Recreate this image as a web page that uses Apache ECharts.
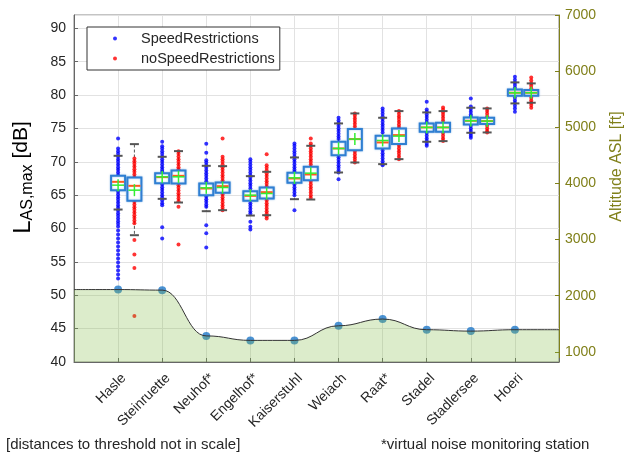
<!DOCTYPE html>
<html><head><meta charset="utf-8">
<script src="https://cdn.jsdelivr.net/npm/echarts@6/dist/echarts.min.js"></script>
<style>html,body{margin:0;padding:0;background:#fff}#c{width:633px;height:462px}</style>
</head><body><div id="c"></div>
<script>
const stations = ['Hasle','Steinruette','Neuhof*','Engelhof*','Kaiserstuhl','Weiach','Raat*','Stadel','Stadlersee','Hoeri'];
const altitudeFt = [2110,2100,1285,1205,1205,1465,1585,1395,1370,1395];
const rightTicks = [1000,2000,3000,4000,5000,6000,7000];
// [lowerWhisker, q1, median, q3, upperWhisker]
const boxSpeed = [
  [62.85,65.75,67.0,67.9,70.9],[64.45,66.8,67.7,68.3,70.75],[62.6,65.0,66.0,66.75,69.4],
  [61.95,64.15,64.9,65.6,67.85],[64.4,66.85,67.5,68.35,70.65],[68.4,71.0,72.0,73.0,75.75],
  [69.65,72.0,72.9,73.9,76.6],[73.0,74.5,75.15,75.75,77.4],[74.35,75.6,76.15,76.65,78.1],
  [78.75,79.9,80.35,80.85,81.9]];
const meanSpeed = [66.5,67.75,66.1,65.0,67.6,72.0,73.2,75.15,76.15,80.35];
const boxNoSpeed = [
  [59.0,64.15,66.4,67.65,72.65],[63.9,66.75,67.9,68.7,71.6],[62.75,65.35,66.35,66.9,69.35],
  [62.0,64.5,65.45,66.15,68.5],[64.35,67.25,68.1,69.25,72.4],[69.9,71.75,73.4,74.9,77.25],
  [70.4,72.65,74.0,75.0,77.6],[73.1,74.5,75.15,75.85,77.6],[74.4,75.65,76.1,76.6,78.0],
  [78.85,79.9,80.35,80.75,81.75]];
const meanNoSpeed = [65.75,67.75,66.15,65.25,68.3,73.4,73.85,75.15,76.1,80.35];
const dotsSpeed = [
  [73.5,72.0,71.6,71.2,70.8,70.4,70.0,69.6,69.2,68.8,68.4,68.0,65.5,65.1,64.7,64.3,63.9,63.5,63.1,62.7,62.3,61.9,61.5,61.1,60.7,60.3,59.7,59.1,58.5,57.9,57.3,56.7,56.1,55.5,54.9,54.3,53.7,53.1,52.5],
  [73.0,72.35,72.0,71.6,71.2,70.8,70.4,70.0,69.6,69.2,68.8,68.5,66.6,66.2,65.8,65.4,65.0,64.6,64.2,63.8,63.5,60.2,58.5],
  [72.7,71.35,70.25,69.9,69.5,69.1,68.7,68.3,67.9,67.5,67.1,64.8,64.4,64.0,63.6,63.25,60.5,59.3,57.15],
  [70.4,70.0,69.6,69.2,68.8,68.4,68.0,67.6,67.2,66.8,66.4,66.0,63.8,63.4,63.0,62.6,62.25,61.0,60.25,59.85],
  [72.75,72.4,72.0,71.6,71.2,70.8,70.4,70.0,69.6,69.2,68.8,68.5,66.6,66.2,65.8,65.4,65.0,62.75],
  [76.6,76.2,75.8,75.4,75.0,74.6,74.2,73.8,73.4,70.7,70.3,69.9,69.5,69.1,68.7,68.4,67.4],
  [78.0,77.6,77.2,76.8,76.4,76.0,75.6,75.2,74.8,74.4,71.7,71.3,70.9,70.5,70.1,69.7,69.5],
  [79.0,77.85,77.5,77.1,76.7,76.3,75.9,74.3,73.9,73.5,73.1,72.7,72.4],
  [79.5,78.3,77.9,77.5,77.1,76.8,75.4,75.0,74.6,74.2,73.9,73.6],
  [82.75,82.3,81.9,81.5,81.1,79.6,79.2,78.8,78.4,78.0,77.5]];
const dotsNoSpeed = [
  [70.5,70.1,69.7,69.3,68.9,68.5,68.1,67.7,64.0,63.6,63.2,62.8,62.4,62.0,61.6,61.2,60.8,58.3,56.1,54.1,46.9],
  [71.6,71.2,70.8,70.4,70.0,69.6,69.2,68.9,66.5,66.1,65.7,65.3,64.9,64.5,64.1,63.25,57.6],
  [73.5,70.75,70.4,70.0,69.6,69.2,68.8,68.4,68.0,67.6,67.2,65.1,64.7,64.3,63.9,63.5,63.1,62.75],
  [71.15,69.5,69.1,68.7,68.3,67.9,67.5,67.1,66.7,66.3,64.2,63.8,63.4,63.0,62.6,62.2,61.85,61.5],
  [73.5,72.75,72.4,72.0,71.6,71.2,70.8,70.4,70.0,69.6,67.0,66.6,66.2,65.8,65.4,65.0,64.6],
  [77.25,76.9,76.5,76.1,75.7,75.3,71.5,71.1,70.7,70.3,69.9],
  [77.6,77.2,76.8,76.4,76.0,75.6,75.2,72.4,72.0,71.6,71.2,70.8,70.4],
  [78.15,77.8,77.4,77.0,76.6,76.2,74.3,73.9,73.5,73.1],
  [78.0,77.6,77.2,76.8,75.4,75.0,74.6,74.4],
  [82.65,82.2,81.75,81.4,81.0,79.6,79.2,78.85,78.5,78.1]];

const OFFSET = 0.37;
const LABEL_SHIFT = 0.13;
const FONT = '"Liberation Sans", Arial, Helvetica, sans-serif';
const TXT = '#262626';
const OLIVE = '#80801a';

function dots(list, off){ const out=[]; list.forEach((arr,i)=>arr.forEach(v=>out.push([i+1+off, v]))); return out; }
function boxes(b, m, off){ return b.map((r,i)=>[i+1+off, r[0], r[1], r[2], r[3], r[4], m[i]]); }

function whiskerRender(params, api){
  const x = api.value(0);
  const lo = api.coord([x, api.value(1)]), q1 = api.coord([x, api.value(2)]);
  const q3 = api.coord([x, api.value(4)]), hi = api.coord([x, api.value(5)]);
  const st = {stroke:'#555', lineWidth:1, lineDash:[3,2]};
  return {type:'group', children:[
    {type:'line', shape:{x1:lo[0],y1:q3[1],x2:lo[0],y2:hi[1]}, style:st},
    {type:'line', shape:{x1:lo[0],y1:q1[1],x2:lo[0],y2:lo[1]}, style:st}
  ]};
}
function boxRender(params, api){
  const x = api.value(0);
  const lo = api.coord([x, api.value(1)]), q1 = api.coord([x, api.value(2)]);
  const md = api.coord([x, api.value(3)]), q3 = api.coord([x, api.value(4)]);
  const hi = api.coord([x, api.value(5)]), mn = api.coord([x, api.value(6)]);
  const cx = lo[0], hw = 7, cw = 4.5, pv = 6;
  return {type:'group', children:[
    {type:'line', shape:{x1:cx-cw,y1:hi[1],x2:cx+cw,y2:hi[1]}, style:{stroke:'#555',lineWidth:2}},
    {type:'line', shape:{x1:cx-cw,y1:lo[1],x2:cx+cw,y2:lo[1]}, style:{stroke:'#555',lineWidth:2}},
    {type:'rect', shape:{x:cx-hw,y:q3[1],width:2*hw,height:Math.max(q1[1]-q3[1],1)}, style:{fill:'#fff',stroke:'#2f7fd2',lineWidth:2,shadowColor:'rgba(47,127,210,0.45)',shadowBlur:2}},
    {type:'line', shape:{x1:cx-hw+1,y1:md[1],x2:cx+hw-1,y2:md[1]}, style:{stroke:'#ff5a1f',lineWidth:2}},
    {type:'line', shape:{x1:cx-hw+1,y1:mn[1],x2:cx+hw-1,y2:mn[1]}, style:{stroke:'#33ee33',lineWidth:1.5}},
    {type:'line', shape:{x1:cx,y1:mn[1]-pv,x2:cx,y2:mn[1]+pv}, style:{stroke:'#33ee33',lineWidth:1.5}}
  ]};
}

const altData = [[0, altitudeFt[0]]].concat(altitudeFt.map((v,i)=>[i+1,v]), [[11, altitudeFt[altitudeFt.length-1]]]);

const chart = echarts.init(document.getElementById('c'), null, {renderer:'canvas'});
chart.setOption({
  animation:false,
  textStyle:{fontFamily:FONT},
  grid:{left:74,right:67,top:15,bottom:100,show:true,borderColor:'#888',borderWidth:1,backgroundColor:'#fff'},
  legend:{
    data:['SpeedRestrictions','noSpeedRestrictions'],
    orient:'vertical', left:87, top:27, icon:'circle', itemWidth:4, itemHeight:4, itemGap:5,
    padding:[4,5,4,26], borderColor:'#333', borderWidth:1, backgroundColor:'#fff',
    textStyle:{fontSize:14.5,color:TXT,fontFamily:FONT,padding:[0,0,0,19]}
  },
  xAxis:{
    type:'value', min:0, max:11, interval:1,
    axisLine:{show:true,lineStyle:{color:'#666'}},
    axisTick:{show:true,inside:true,length:4,lineStyle:{color:'#666'}},
    splitLine:{show:true,lineStyle:{color:'#e2e2e2'}},
    axisLabel:{rotate:45,fontSize:14,color:TXT,margin:14,fontFamily:FONT,
      customValues:stations.map((s,i)=>i+1+LABEL_SHIFT),
      formatter:v=> stations[Math.round(v)-1] || ''}
  },
  yAxis:[{
    type:'value', min:40, max:92, interval:5,
    axisLine:{show:true,lineStyle:{color:'#666'}},
    axisTick:{show:true,inside:true,length:4,lineStyle:{color:'#666'}},
    splitLine:{show:true,lineStyle:{color:'#e2e2e2'}},
    axisLabel:{fontSize:14,color:TXT,margin:8,showMaxLabel:false,fontFamily:FONT},
    name:'{l|L}{s|AS,max}{d| [dB]}', nameLocation:'middle', nameRotate:90, nameGap:38,
    nameTextStyle:{color:TXT,fontFamily:FONT,padding:[0,0,0,22],
      rich:{l:{fontSize:24,fontFamily:FONT,color:'#000',verticalAlign:'top',lineHeight:25},
            s:{fontSize:16,fontFamily:FONT,color:'#000',verticalAlign:'bottom',lineHeight:16,padding:[10,0,0,0]},
            d:{fontSize:21,fontFamily:FONT,color:'#000',verticalAlign:'top',lineHeight:25}}}
  },{
    type:'value', position:'right', min:820, max:7000,
    axisLine:{show:true,lineStyle:{color:OLIVE}},
    axisTick:{show:true,inside:true,length:4,customValues:rightTicks,lineStyle:{color:OLIVE}},
    splitLine:{show:false},
    axisLabel:{fontSize:14,color:OLIVE,margin:6,customValues:rightTicks,fontFamily:FONT,formatter:v=>String(v)},
    name:'Altitude ASL [ft]', nameLocation:'middle', nameRotate:90, nameGap:50,
    nameTextStyle:{fontSize:16,color:OLIVE,fontFamily:FONT,padding:[0,0,0,44]}
  }],
  series:[
    {type:'custom', name:'whiskS', renderItem:whiskerRender, data:boxes(boxSpeed,meanSpeed,0), encode:{x:0,y:[1,2,3,4,5,6]}, z:1, silent:true},
    {type:'custom', name:'whiskN', renderItem:whiskerRender, data:boxes(boxNoSpeed,meanNoSpeed,OFFSET), encode:{x:0,y:[1,2,3,4,5,6]}, z:1, silent:true},
    {type:'scatter', name:'SpeedRestrictions', data:dots(dotsSpeed,0), symbolSize:4, itemStyle:{color:'#0000ff'}, z:2},
    {type:'scatter', name:'noSpeedRestrictions', data:dots(dotsNoSpeed,OFFSET), symbolSize:4, itemStyle:{color:'#ff0000'}, z:2},
    {type:'custom', name:'boxS', renderItem:boxRender, data:boxes(boxSpeed,meanSpeed,0), encode:{x:0,y:[1,2,3,4,5,6]}, z:3, silent:true},
    {type:'custom', name:'boxN', renderItem:boxRender, data:boxes(boxNoSpeed,meanNoSpeed,OFFSET), encode:{x:0,y:[1,2,3,4,5,6]}, z:3, silent:true},
    {type:'scatter', name:'altMarkers', yAxisIndex:1, data:altitudeFt.map((v,i)=>[i+1,v]), symbolSize:8, itemStyle:{color:'#1f78c8'}, z:2, silent:true},
    {type:'line', name:'altitude', yAxisIndex:1, data:altData, smooth:0.45, smoothMonotone:'x', showSymbol:false,
      lineStyle:{color:'#333',width:1}, areaStyle:{color:'rgba(130,187,67,0.4)',origin:'start'}, z:4, silent:true}
  ],
  graphic:[
    {type:'text', left:6, top:437, style:{text:'[distances to threshold not in scale]', fontSize:15, fill:TXT, fontFamily:FONT}},
    {type:'text', left:381, top:437, style:{text:'*virtual noise monitoring station', fontSize:15, fill:TXT, fontFamily:FONT}}
  ]
});
</script></body></html>
